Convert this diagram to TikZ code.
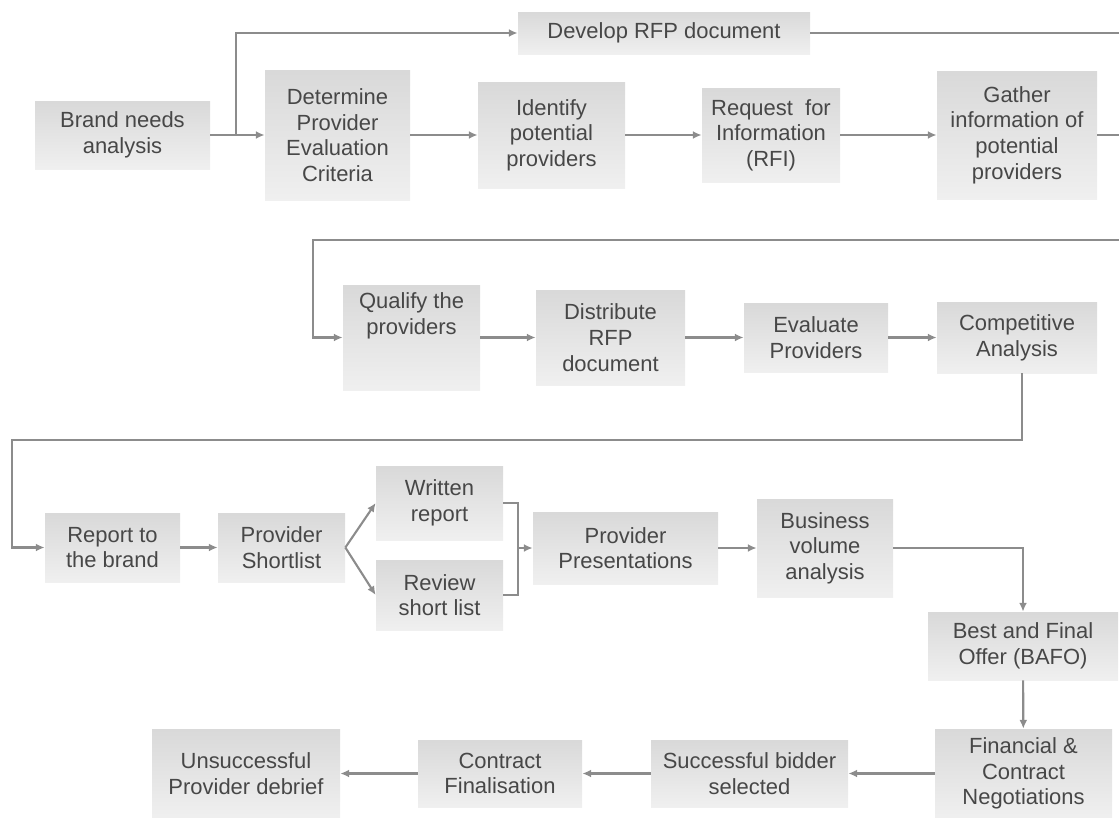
\documentclass[tikz,border=0pt]{standalone}
\usepackage{fontspec}
\setmainfont{Liberation Sans}
\usetikzlibrary{arrows.meta, calc}

\begin{document}
\begin{tikzpicture}[x=0.02cm, y=-0.02cm,
    box/.style={inner sep=0pt, top color=black!15, bottom color=black!6, text=black!72,
      align=center, font=\fontsize{12.5}{14.6}\selectfont},
    area/.style n args={4}{minimum width={(#3-#1)*0.02cm}, minimum height={(#4-#2)*0.02cm},
      at={({(#1+#3)/2},{(#2+#4)/2})}},
    link/.style={draw=black!45, line width=1.2pt},
    flow/.style={link, -{Latex[length=5pt, width=4.5pt]}}]
  \useasboundingbox (0,0) rectangle (1119,818);
  % first row
  \node[box, area={35}{101}{210}{169}] (brand) {Brand needs\\analysis};
  \node[box, area={518}{12}{810}{54}] (rfp) {Develop RFP document};
  \node[box, area={265}{70}{410}{200}] (crit) {Determine\\Provider\\Evaluation\\Criteria};
  \node[box, area={478}{82}{625}{188}] (ident) {Identify\\potential\\providers};
  \node[box, area={702}{88}{840}{182}] (rfi) {Request\ \ for\\Information\\(RFI)};
  \node[box, area={937}{71}{1097}{199}] (gather) {Gather\\information of\\potential\\providers};
  % second row
  \node[box, area={343}{285}{480}{390}, text depth=0.95cm] (qual) {Qualify the\\providers};
  \node[box, area={536}{290}{685}{385}] (distr) {Distribute\\RFP\\document};
  \node[box, area={744}{303}{888}{372}] (eval) {Evaluate\\Providers};
  \node[box, area={937}{302}{1097}{373}] (comp) {Competitive\\Analysis};
  % third row
  \node[box, area={45}{513}{180}{582}] (report) {Report to\\the brand};
  \node[box, area={218}{513}{345}{582}] (short) {Provider\\Shortlist};
  \node[box, area={376}{466}{503}{540}] (written) {Written\\report};
  \node[box, area={376}{560}{503}{630}] (review) {Review\\short list};
  \node[box, area={533}{512}{718}{584}] (pres) {Provider\\Presentations};
  \node[box, area={757}{499}{893}{597}] (busi) {Business\\volume\\analysis};
  \node[box, area={928}{612}{1118}{680}] (bafo) {Best and Final\\Offer (BAFO)};
  % fourth row
  \node[box, area={935}{729}{1112}{818}] (fin) {Financial \&\\Contract\\Negotiations};
  \node[box, area={651}{740}{848}{807}] (succ) {Successful bidder\\selected};
  \node[box, area={418}{740}{582}{807}] (contr) {Contract\\Finalisation};
  \node[box, area={152}{729}{340}{818}] (unsucc) {Unsuccessful\\Provider debrief};
  % connectors
  \coordinate (split) at (236,135);
  \coordinate (edgeA) at (1119,33); \coordinate (edgeB) at (1119,135);
  \coordinate (edgeC) at (1119,240); \coordinate (turnC) at (313,240);
  \coordinate (turnD) at (12,440); \coordinate (join) at (518,548);
  \draw[link] (brand.east) -- (split);
  \draw[flow] (split) -- (crit);
  \draw[flow] (split) |- (rfp.west);
  \draw[link] (rfp.east) -- (edgeA);
  \draw[flow] (crit) -- (ident);
  \draw[flow] (ident) -- (rfi);
  \draw[flow] (rfi) -- (gather);
  \draw[link] (gather.east) -- (edgeB);
  \draw[flow] (edgeC) -- (turnC) |- (qual.west);
  \draw[flow] (qual) -- (distr);
  \draw[flow] (distr) -- (eval);
  \draw[flow] (eval) -- (comp);
  \draw[flow] ($(comp.south)+(5,0)$) |- (turnD) |- (report.west);
  \draw[flow] (report) -- (short);
  \draw[flow] (short.east) -- (written.west);
  \draw[flow] (short.east) -- (review.west);
  \draw[link] (written.east) -| (join) |- (review.east);
  \draw[flow] (join) -- (pres.west);
  \draw[flow] (pres) -- (busi);
  \draw[flow] (busi.east) -| (bafo.north);
  \draw[flow] (bafo) -- (fin);
  \draw[flow] (fin) -- (succ);
  \draw[flow] (succ) -- (contr);
  \draw[flow] (contr) -- (unsucc);
\end{tikzpicture}
\end{document}
